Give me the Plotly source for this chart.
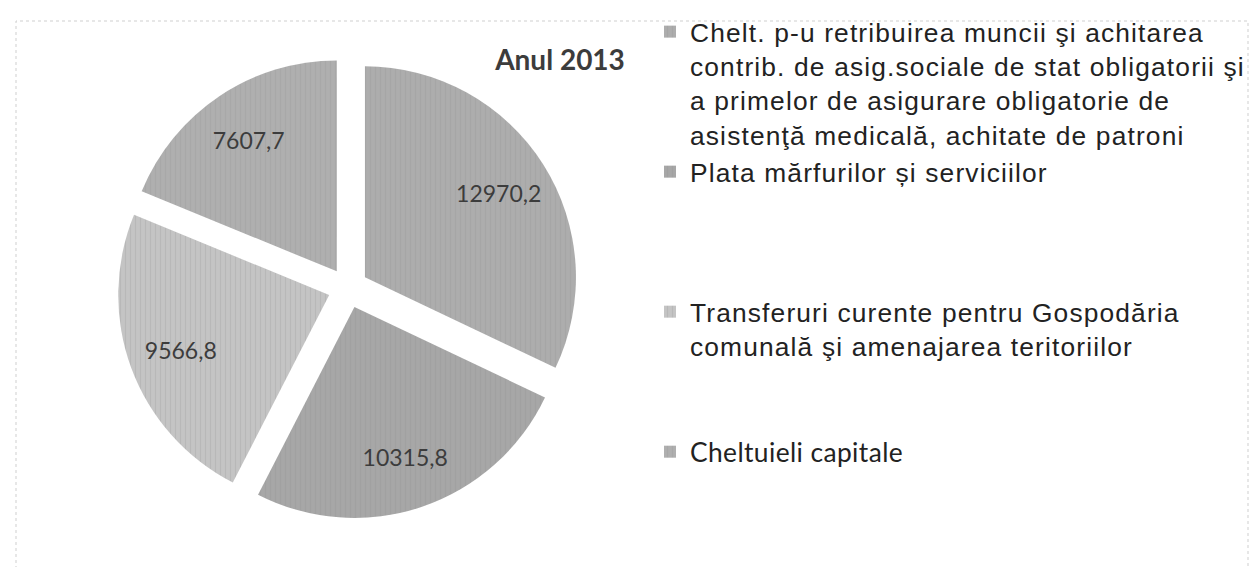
import plotly.graph_objects as go

# ---- data ----
categories = [
    "Chelt. p-u retribuirea muncii şi achitarea contrib. de asig.sociale de stat obligatorii şi a primelor de asigurare obligatorie de asistenţă medicală, achitate de patroni",
    "Plata mărfurilor și serviciilor",
    "Transferuri curente pentru Gospodăria comunală şi amenajarea teritoriilor",
    "Cheltuieli capitale",
]
legend_lines = [
    ["Chelt. p-u retribuirea muncii şi achitarea",
     "contrib. de asig.sociale de stat obligatorii şi",
     "a primelor de asigurare obligatorie de",
     "asistenţă medicală, achitate de patroni"],
    ["Plata mărfurilor și serviciilor"],
    ["Transferuri curente pentru Gospodăria",
     "comunală şi amenajarea teritoriilor"],
    ["Cheltuieli capitale"],
]
values = [12970.2, 10315.8, 9566.8, 7607.7]
title_text = "Anul 2013"

# ---- styles ----
slice_colors = ["#adadad", "#a7a7a7", "#c4c4c4", "#afafaf"]
legend_fonts = [None, None, None, "Lato"]
W, H = 1257, 567

def legend_label(lines, font):
    style = "letter-spacing:1.15px"
    if font:
        style = "font-family:%s;letter-spacing:0.4px" % font
    parts = ['<span style="%s">%s</span>' % (style, ln) for ln in lines]
    while len(parts) < 4:
        parts.append("\u00a0")
    return "<br>".join(parts)

labels = [legend_label(l, f) for l, f in zip(legend_lines, legend_fonts)]

dom_x = [109 / W, 571 / W]
dom_y = [(H - 511) / H, (H - 49) / H]
pull = 0.095

fig = go.Figure()
fig.add_trace(go.Pie(
    labels=labels,
    values=values,
    sort=False,
    direction="clockwise",
    rotation=0,
    pull=pull,
    textinfo="none",
    hoverinfo="skip",
    domain=dict(x=dom_x, y=dom_y),
    marker=dict(
        colors=slice_colors,
        line=dict(width=0),
        pattern=dict(shape="|", fgcolor="#8a8a8a", fgopacity=0.22, bgcolor=slice_colors,
                     size=5, solidity=0.25),
    ),
    showlegend=True,
))
# transparent ring used to place the value labels at ~3/4 of the radius
fig.add_trace(go.Pie(
    labels=["v%d" % i for i in range(len(values))],
    values=values,
    sort=False,
    direction="clockwise",
    rotation=0,
    pull=pull,
    hole=0.5,
    texttemplate="%{value:.1f}",
    textposition="inside",
    insidetextorientation="horizontal",
    insidetextfont=dict(family="Lato", size=23, color="#3c3c3c"),
    hoverinfo="skip",
    domain=dict(x=dom_x, y=dom_y),
    marker=dict(colors=["rgba(0,0,0,0)"] * len(values), line=dict(width=0)),
    showlegend=False,
))

fig.update_layout(
    width=W, height=H,
    margin=dict(l=0, r=0, t=0, b=0),
    paper_bgcolor="white",
    plot_bgcolor="white",
    separators=", ",
    title=dict(text="<b>%s</b>" % title_text, x=552 / W, xanchor="center",
               y=1 - 52 / H, yanchor="middle",
               font=dict(family="Lato", size=28, color="#3c3c3c")),
    legend=dict(
        x=642 / W, xanchor="left",
        y=1 - 4.5 / H, yanchor="top",
        valign="top",
        font=dict(family="Liberation Sans, Arial", size=26.35, color="#222222"),
        bgcolor="rgba(0,0,0,0)",
        traceorder="normal",
    ),
    shapes=[dict(type="rect", xref="paper", yref="paper",
                 x0=8 / W, x1=1240 / W, y0=1 - 562 / H, y1=1 - 13 / H,
                 line=dict(color="#cfcfcf", width=1, dash="dot"), layer="below")],
)

fig.write_html("out.html")
